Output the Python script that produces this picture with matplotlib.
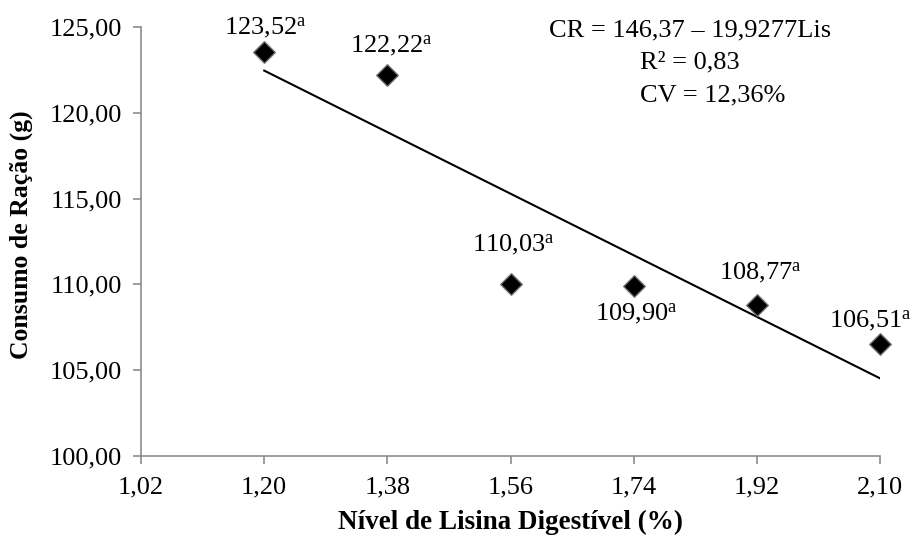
import numpy as np
import matplotlib
matplotlib.use("Agg")
import matplotlib.pyplot as plt
import matplotlib.ticker as mticker

plt.rcParams.update({
    "font.family": "Liberation Serif",
    "mathtext.fontset": "custom",
    "mathtext.rm": "Liberation Serif",
    "mathtext.it": "Liberation Serif:italic",
    "mathtext.bf": "Liberation Serif:bold",
    "font.size": 19,
})

# data
lisina = [1.20, 1.38, 1.56, 1.74, 1.92, 2.10]
consumo = [123.52, 122.22, 110.03, 109.90, 108.77, 106.51]
rotulos = ["123,52", "122,22", "110,03", "109,90", "108,77", "106,51"]
# label offsets (pixels) from each point
offsets = [(1, 25), (4, 29), (3, 39), (3, -27), (3, 33), (-10, 24)]

a, b = 146.37, -19.9277
x_ticks = [1.02, 1.20, 1.38, 1.56, 1.74, 1.92, 2.10]
y_ticks = [100, 105, 110, 115, 120, 125]

GRAY = "#8c8c8c"
FS = 19

fig = plt.figure(figsize=(9.17, 5.39), dpi=100)
ax = fig.add_axes([0.1538, 0.154, 0.806, 0.796])

# trend line
xl = np.array([lisina[0], lisina[-1]])
ax.plot(xl, a + b * xl, color="black", linewidth=1.5, zorder=2)

ax.scatter(lisina, consumo, marker="D", s=120, color="black",
           edgecolors="#6b6b6b", linewidths=1.0, zorder=3, clip_on=False)

for xv, yv, lab, (dx, dy) in zip(lisina, consumo, rotulos, offsets):
    ax.annotate(lab + r"$^{\mathrm{a}}$", (xv, yv), xytext=(dx, dy),
                textcoords="offset pixels", ha="center", va="center",
                fontsize=FS)

ax.text(0.743, 0.993, "CR = 146,37 – 19,9277Lis", transform=ax.transAxes,
        ha="center", va="center", fontsize=FS)
ax.text(0.743, 0.918, "R² = 0,83", transform=ax.transAxes,
        ha="center", va="center", fontsize=FS)
ax.text(0.773, 0.841, "CV = 12,36%", transform=ax.transAxes,
        ha="center", va="center", fontsize=FS)

ax.set_xlim(1.02, 2.10)
ax.set_ylim(100, 125)
ax.set_xticks(x_ticks)
ax.set_yticks(y_ticks)
fmt = mticker.FuncFormatter(lambda v, _: f"{v:.2f}".replace(".", ","))
ax.xaxis.set_major_formatter(fmt)
ax.yaxis.set_major_formatter(fmt)

for s in ["top", "right"]:
    ax.spines[s].set_visible(False)
for s in ["left", "bottom"]:
    ax.spines[s].set_color(GRAY)
    ax.spines[s].set_linewidth(1.2)
ax.tick_params(axis="both", colors=GRAY, labelcolor="black", length=6,
               width=1.2, labelsize=FS)
ax.tick_params(axis="y", pad=8)
ax.tick_params(axis="x", pad=9)

ax.set_xlabel("Nível de Lisina Digestível (%)", fontweight="bold", fontsize=19.5, labelpad=8)
ax.set_ylabel("Consumo de Ração (g)", fontweight="bold", fontsize=18.5)
ax.yaxis.set_label_coords(-0.146, 0.515)

fig.savefig("out.png", dpi=100)
